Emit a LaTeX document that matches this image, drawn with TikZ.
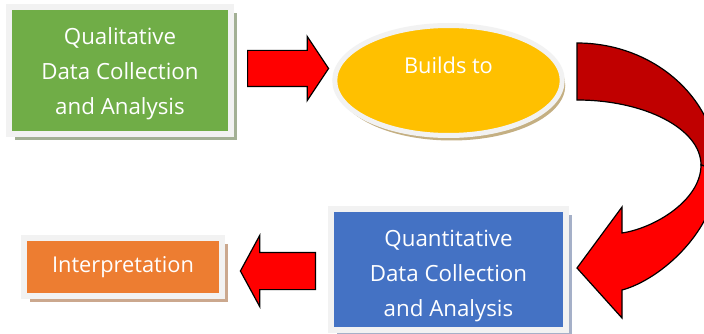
\documentclass[tikz,border=0pt]{standalone}
\usepackage{fontspec}
\setmainfont{Open Sans}
\usetikzlibrary{shapes.geometric,shapes.arrows,shadows}
\definecolor{qgreen}{HTML}{70AD47}
\definecolor{qyellow}{HTML}{FFC000}
\definecolor{qblue}{HTML}{4472C4}
\definecolor{qorange}{HTML}{ED7D31}
\definecolor{qred}{HTML}{FF0000}
\definecolor{qdred}{HTML}{C00000}
\definecolor{framegray}{HTML}{F2F2F2}
\definecolor{greenshadow}{HTML}{A3B095}
\definecolor{yshadow}{HTML}{C4AF82}
\definecolor{bshadow}{HTML}{A5B0C8}
\definecolor{oshadow}{HTML}{CBA88E}
\begin{document}
\begin{tikzpicture}[x=1pt,y=-1pt,
  framed/.style={draw=framegray, line width=6pt, text=white, align=center, inner sep=0pt},
  sh/.style={general shadow={fill=#1, shadow xshift=6pt, shadow yshift=-6pt}},
  blockarrow/.style={single arrow, fill=qred, draw=black, line width=1.2pt, inner xsep=0pt, single arrow head indent=0pt},
  curvepart/.style={draw=black, line width=1.2pt, line join=miter},
  bigtext/.style={font=\fontsize{21.8}{35}\selectfont},
  boxtext/.style={font=\fontsize{22.3}{35}\selectfont}
]
\useasboundingbox (0,0) rectangle (704,334);
\clip (0,0) rectangle (704,334);
\fill[white] (0,0) rectangle (704,334);

% boxes
\node[framed, sh=greenshadow, fill=qgreen, minimum width=222pt, minimum height=127pt, boxtext] (qual) at (120,70.5) {\rule{0pt}{24pt}Qualitative\\Data Collection\\and Analysis};
\node[ellipse, framed, line width=5pt, general shadow={fill=yshadow, shadow xshift=3pt, shadow yshift=-5pt}, fill=qyellow, minimum width=227.5pt, minimum height=110pt, bigtext, text height=10pt, text depth=24pt] (builds) at (448.5,80.5) {Builds to};
\node[framed, sh=bshadow, fill=qblue, minimum width=235pt, minimum height=121pt, boxtext] (quant) at (448.5,269.5) {\rule{0pt}{29pt}Quantitative\\Data Collection\\and Analysis};
\node[framed, sh=oshadow, fill=qorange, minimum width=198pt, minimum height=58pt, bigtext] (interp) at (123,267) {Interpretation};

% straight arrows
\node[blockarrow, minimum height=81pt, minimum width=63pt, inner ysep=17.5pt, single arrow head extend=14pt, single arrow tip angle=112.6, anchor=tail] (a1) at (247,68.5) {};
\node[blockarrow, shape border rotate=180, minimum height=75pt, minimum width=70pt, inner ysep=18pt, single arrow head extend=17pt, single arrow tip angle=123, anchor=tail] (a3) at (316,271) {};

% curved arrow
\coordinate (otop) at (577,43);
\coordinate (itop) at (577,100);
\coordinate (oright) at (718,170);
\coordinate (iright) at (701,165);
\coordinate (ibot) at (622,233);
\coordinate (obot) at (622,290);
\coordinate (tip) at (577,268);
\draw[curvepart, fill=qdred] (otop) .. controls (655,43) and (718,100) .. (oright) -- (iright) .. controls (701,129) and (645,100) .. (itop) -- cycle;
\draw[curvepart, fill=qred] (iright) .. controls (701,200) and (655,228) .. (ibot) -- (622,207) -- (tip) -- (622,318) -- (obot) .. controls (660,280) and (718,230) .. (oright) -- cycle;
\end{tikzpicture}
\end{document}
